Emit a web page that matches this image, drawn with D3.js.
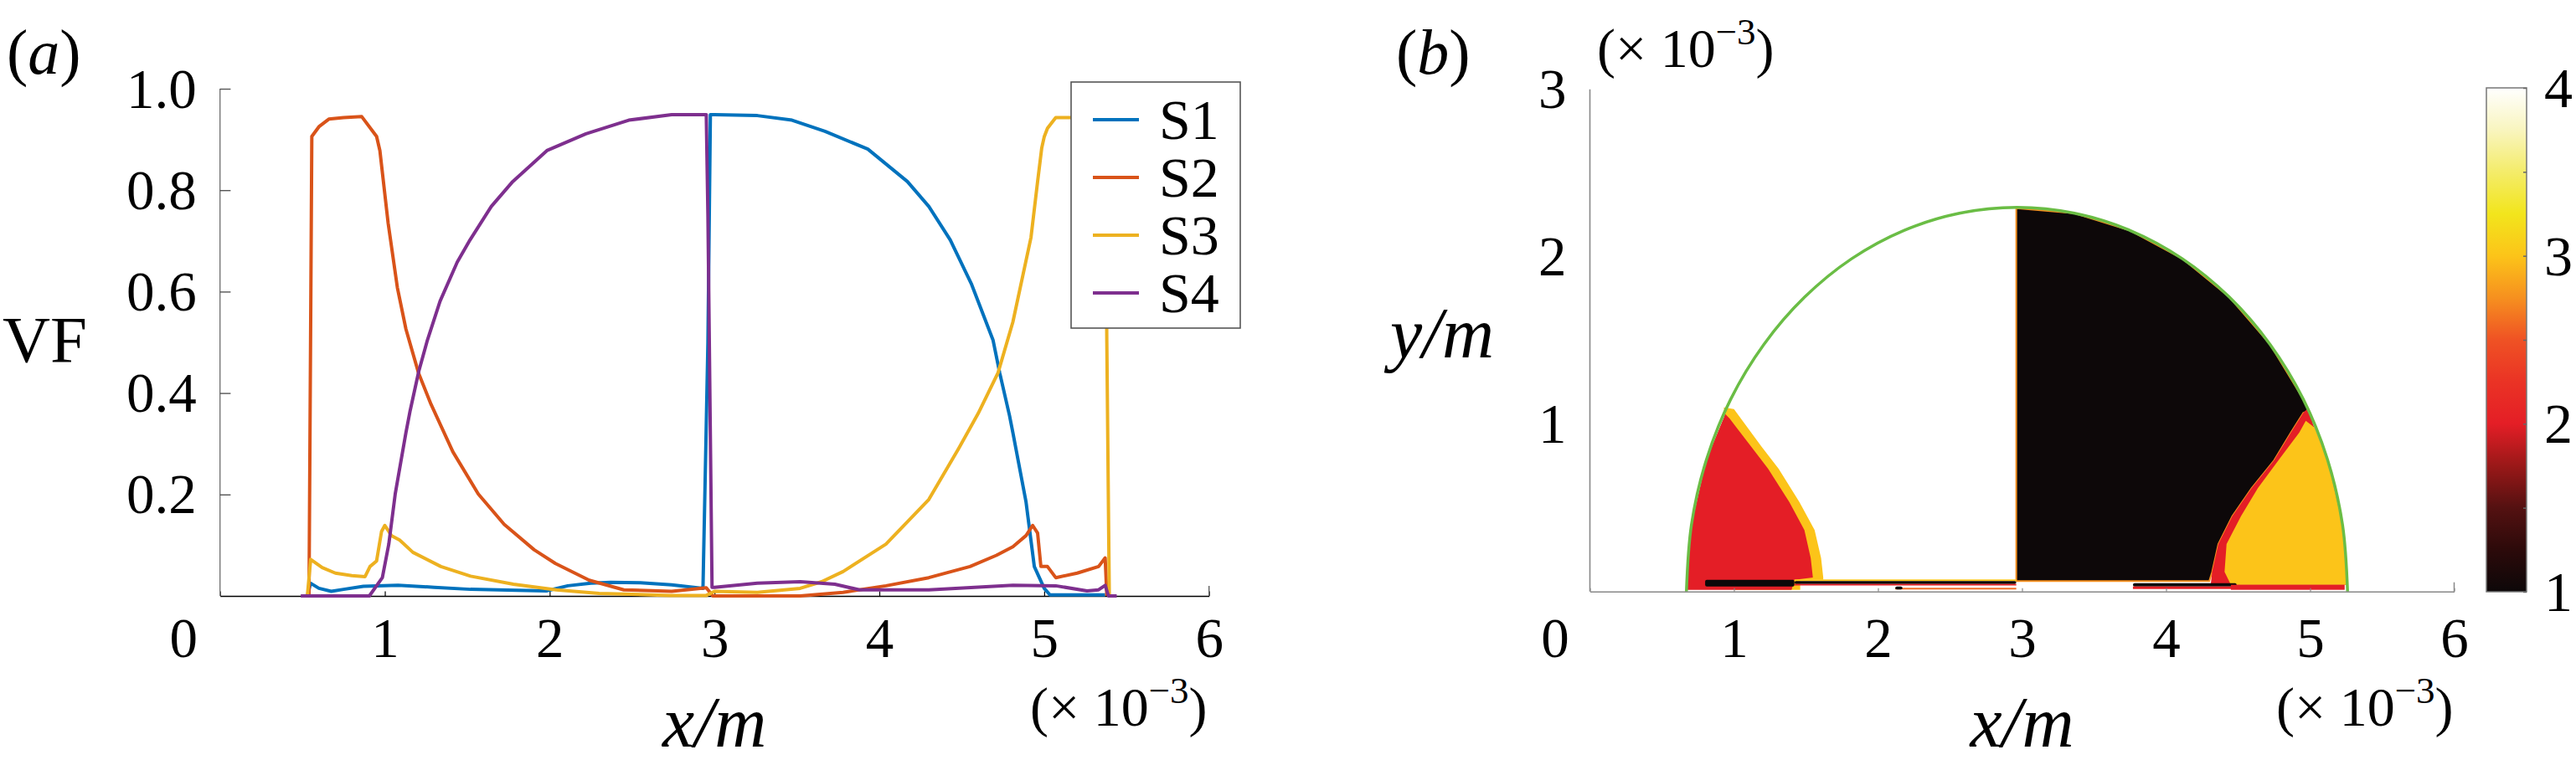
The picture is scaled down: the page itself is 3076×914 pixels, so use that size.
<!DOCTYPE html>
<html>
<head>
<meta charset="utf-8">
<script src="https://cdn.jsdelivr.net/npm/d3@7"></script>
<style>
  body { margin: 0; background: #fff; }
  text { font-family: "Liberation Serif", "Times New Roman", serif; fill: #000; }
</style>
</head>
<body>
<svg id="fig" width="3076" height="914"></svg>
<script>

// ---- panel (a) data: volume fraction of each species along x (x in 1e-3 m)
const seriesNames = ["S1", "S2", "S3", "S4"];
const seriesColors = ["#0072bd", "#d95319", "#edb120", "#7e2f8e"];
const xTicks = [0, 1, 2, 3, 4, 5, 6];
const vfTicks = [0.2, 0.4, 0.6, 0.8, 1.0];

const s1 = [[0.53,0],[0.55,0.025],[0.6,0.015],[0.675,0.009],[0.75,0.013],[0.87,0.019],[1.08,0.021],
  [1.3,0.017],[1.52,0.013],[1.8,0.011],[1.98,0.01],[2.11,0.02],[2.25,0.025],[2.37,0.027],[2.55,0.026],
  [2.74,0.022],[2.93,0.015],[2.96,0.5],[2.975,0.949],[3.0,0.949],[3.26,0.947],[3.47,0.938],[3.67,0.916],
  [3.93,0.881],[4.17,0.817],[4.3,0.768],[4.43,0.702],[4.56,0.614],[4.69,0.504],[4.73,0.44],[4.79,0.355],
  [4.81,0.322],[4.89,0.185],[4.94,0.058],[5.0,0.015],[5.035,0.002],[5.37,0.002]];

const s2 = [[0.54,0],[0.557,0.906],[0.6,0.925],[0.66,0.94],[0.75,0.943],[0.86,0.945],[0.95,0.906],
  [0.97,0.878],[1.02,0.735],[1.076,0.608],[1.128,0.526],[1.206,0.438],[1.28,0.378],[1.413,0.284],
  [1.567,0.201],[1.724,0.141],[1.906,0.091],[2.035,0.064],[2.24,0.031],[2.45,0.012],[2.74,0.009],
  [2.95,0.016],[2.99,0.0],[3.52,0.0],[3.78,0.007],[4.04,0.02],[4.3,0.036],[4.55,0.058],[4.71,0.08],
  [4.81,0.097],[4.89,0.119],[4.93,0.139],[4.96,0.124],[4.98,0.058],[5.02,0.058],[5.07,0.036],
  [5.2,0.045],[5.33,0.058],[5.37,0.075],[5.38,0]];

const s3 = [[0.53,0],[0.55,0.072],[0.62,0.056],[0.7,0.045],[0.8,0.04],[0.88,0.038],[0.91,0.058],
  [0.95,0.069],[0.98,0.127],[1.0,0.139],[1.04,0.119],[1.09,0.11],[1.17,0.086],[1.34,0.058],[1.52,0.039],
  [1.78,0.023],[2.04,0.012],[2.3,0.005],[2.73,0.001],[2.95,0.001],[3.0,0.009],[3.26,0.007],[3.52,0.015],
  [3.65,0.028],[3.78,0.048],[4.04,0.102],[4.3,0.19],[4.48,0.29],[4.6,0.36],[4.72,0.44],[4.81,0.54],
  [4.92,0.707],[4.96,0.817],[4.985,0.883],[5.0,0.905],[5.02,0.922],[5.07,0.943],[5.2,0.943],
  [5.37,0.943],[5.38,0.5],[5.395,0]];

const s4 = [[0.49,0],[0.906,0],[0.985,0.036],[1.024,0.102],[1.063,0.201],[1.128,0.322],[1.154,0.366],
  [1.206,0.443],[1.258,0.504],[1.335,0.581],[1.439,0.658],[1.517,0.702],[1.646,0.768],[1.776,0.817],
  [1.983,0.878],[2.22,0.911],[2.48,0.938],[2.74,0.949],[2.95,0.949],[2.96,0.75],[2.985,0.017],
  [3.0,0.017],[3.26,0.025],[3.52,0.028],[3.73,0.023],[3.88,0.012],[4.3,0.012],[4.81,0.021],[5.07,0.02],
  [5.26,0.01],[5.33,0.012],[5.37,0.021],[5.39,0],[5.44,0]];

const series = [s1, s2, s3, s4];

// ---- panel (b) data: species map in the droplet (x, y in 1e-3 m)
const yTicksB = [1, 2, 3];
const cbarTicks = [1, 1.5, 2, 2.5, 3, 3.5, 4];
const cbarLabels = [1, 2, 3, 4];
const cbarStops = [1, 1.25, 1.5, 1.75, 2, 2.25, 2.5, 2.75, 3, 3.25, 3.5, 3.75, 4];
const cbarColors = ["#0d0809", "#2c0a0a", "#541111", "#9a1818", "#e41e26", "#ea3325", "#ef5224",
  "#f6901f", "#fcc419", "#f2e51c", "#f4ec6a", "#f9f5bf", "#ffffff"];

const outline = [[0.670,0],[0.705,0.399],[0.808,0.785],[0.977,1.148],[1.207,1.475],[1.490,1.758],
  [1.817,1.988],[2.180,2.157],[2.566,2.260],[2.965,2.295],[3.364,2.260],[3.750,2.157],[4.113,1.988],
  [4.440,1.758],[4.723,1.475],[4.953,1.148],[5.122,0.785],[5.225,0.399],[5.260,0]];

const blackRegion = [[2.96,0.062],[2.96,2.29],[3.364,2.26],[3.75,2.157],[4.113,1.988],[4.44,1.758],
  [4.723,1.475],[4.953,1.148],[4.99,1.08],[4.953,1.067],[4.867,0.95],[4.75,0.783],[4.594,0.617],
  [4.46,0.45],[4.363,0.283],[4.32,0.117],[4.30,0.062]];

const rightRed = [[4.99,1.1],[4.953,1.067],[4.867,0.95],[4.75,0.783],[4.594,0.617],[4.46,0.45],
  [4.363,0.283],[4.32,0.117],[4.31,0.04],[5.26,0.04],[5.256,0.117],[5.225,0.399],[5.122,0.785],[5.02,1.0]];

const rightYellow = [[4.97,1.02],[4.925,0.95],[4.78,0.783],[4.637,0.617],[4.52,0.45],[4.42,0.283],
  [4.406,0.117],[4.45,0.04],[5.26,0.04],[5.256,0.117],[5.225,0.399],[5.122,0.785],[5.03,0.98]];

const leftYellow = [[0.93,1.1],[1.0,1.09],[1.19,0.867],[1.31,0.733],[1.455,0.533],[1.56,0.367],
  [1.605,0.2],[1.62,0.083],[1.62,0.07],[1.46,0.07],[1.46,0.01],[1.0,0.01]];

const leftRed = [[0.67,0.01],[0.705,0.399],[0.808,0.785],[0.94,1.06],[0.97,1.033],[1.118,0.867],
  [1.237,0.733],[1.385,0.533],[1.489,0.367],[1.533,0.2],[1.548,0.083],[1.42,0.07],[1.40,0.01]];

const regions = [leftYellow, leftRed, blackRegion, rightRed, rightYellow];
const regionLevels = [3, 2, 1, 2, 3];

// thin strips along the wall: [x0, x1, y0, y1, level]
const strips = [
  [0.80, 1.42, 0.03, 0.07, 1],
  [1.42, 2.96, 0.062, 0.072, 3],
  [1.42, 2.96, 0.045, 0.062, 1],
  [1.42, 2.96, 0.036, 0.045, 2],
  [2.12, 2.96, 0.012, 0.022, 2.6],
  [2.12, 2.17, 0.012, 0.03, 1],
  [3.77, 4.49, 0.03, 0.05, 1],
  [3.77, 4.49, 0.015, 0.03, 2],
  [4.45, 5.24, 0.01, 0.04, 2]
];

const svg = d3.select("#fig");

// ---------------- panel (a)
const xA = d3.scaleLinear().domain([0, 6]).range([262.7, 1443.7]);
const yA = d3.scaleLinear().domain([0, 1]).range([712, 106]);

const axA = svg.append("g")
  .attr("transform", `translate(0,${yA(0)})`)
  .call(d3.axisBottom(xA).tickValues(xTicks).tickSize(-5.5).tickSizeOuter(0).tickFormat(d3.format("d")))
  .attr("font-size", 67);
axA.select(".domain").attr("stroke", "#000").attr("stroke-width", 1.6);
axA.selectAll(".tick line").attr("stroke", "#000").attr("stroke-width", 1.2);
axA.selectAll(".tick text").attr("y", 73).attr("dy", 0)
  .attr("x", d => d === 0 ? -44 : 0);

svg.append("line")
  .attr("x1", xA(6)).attr("x2", xA(6))
  .attr("y1", yA(0)).attr("y2", yA(0) - 12)
  .attr("stroke", "#666").attr("stroke-width", 1.5);

const ayA = svg.append("g")
  .attr("transform", `translate(${xA(0)},0)`)
  .call(d3.axisLeft(yA).tickValues(vfTicks).tickSize(-12.7).tickSizeOuter(0).tickPadding(28).tickFormat(d3.format(".1f")))
  .attr("font-size", 67);
ayA.select(".domain").attr("stroke", "#777").attr("stroke-width", 1.4)
  .attr("d", `M0,${yA(0)}V${yA(1)}`);
ayA.selectAll(".tick line").attr("stroke", "#555").attr("stroke-width", 1.4);
ayA.selectAll(".tick text").attr("dy", "0.33em");

const lineA = d3.line().x(d => xA(d[0])).y(d => yA(d[1]));

svg.append("g").selectAll("path")
  .data(series)
  .enter().append("path")
  .attr("d", lineA)
  .attr("fill", "none")
  .attr("stroke", (d, i) => seriesColors[i])
  .attr("stroke-width", 4)
  .attr("stroke-linejoin", "round");

// legend
const legend = svg.append("g");
legend.append("rect")
  .attr("x", 1279).attr("y", 98).attr("width", 202).attr("height", 294)
  .attr("fill", "#fff").attr("stroke", "#555").attr("stroke-width", 1.6);
const entries = legend.selectAll(".entry")
  .data(seriesNames)
  .enter().append("g")
  .attr("class", "entry")
  .attr("transform", (d, i) => `translate(0,${143 + i * 69})`);
entries.append("line")
  .attr("x1", 1305).attr("x2", 1360)
  .attr("stroke", (d, i) => seriesColors[i]).attr("stroke-width", 4);
entries.append("text")
  .attr("x", 1384).attr("y", 23)
  .attr("font-size", 68)
  .text(d => d);

svg.append("text").attr("x", 8).attr("y", 88).attr("font-size", 76)
  .html('(<tspan font-style="italic">a</tspan>)');
svg.append("text").attr("x", 3).attr("y", 432).attr("font-size", 79).text("VF");
svg.append("text").attr("x", xA(3)).attr("y", 892).attr("font-size", 86)
  .attr("text-anchor", "middle").attr("font-style", "italic").text("x/m");
svg.append("text").attr("x", 1230).attr("y", 867).attr("font-size", 66)
  .html('(× 10<tspan dy="-27" font-size="45">−3</tspan><tspan dy="27">)</tspan>');

// ---------------- panel (b)
const xB = d3.scaleLinear().domain([0, 6]).range([1898.5, 2930.5]);
const yB = d3.scaleLinear().domain([0, 3]).range([706.7, 106.7]);
const colorScale = d3.scaleLinear().domain(cbarStops).range(cbarColors);
const lineB = d3.line().x(d => xB(d[0])).y(d => yB(d[1]));

svg.append("g").selectAll("path")
  .data(regions)
  .enter().append("path")
  .attr("d", d => lineB(d) + "Z")
  .attr("fill", (d, i) => colorScale(regionLevels[i]))
  .attr("stroke", (d, i) => regionLevels[i] === 1 ? colorScale(2.75) : "none")
  .attr("stroke-width", 2);

svg.append("g").selectAll("rect")
  .data(strips)
  .enter().append("rect")
  .attr("x", d => xB(d[0]))
  .attr("width", d => xB(d[1]) - xB(d[0]))
  .attr("y", d => yB(d[3]))
  .attr("height", d => yB(d[2]) - yB(d[3]))
  .attr("rx", d => d[4] === 1 ? 2 : 0)
  .attr("fill", d => colorScale(d[4]));

svg.append("path")
  .attr("d", lineB.curve(d3.curveCatmullRom)(outline))
  .attr("fill", "none")
  .attr("stroke", "#6abd45")
  .attr("stroke-width", 3.5)
  .attr("stroke-linejoin", "round");
lineB.curve(d3.curveLinear);

const axB = svg.append("g")
  .attr("transform", `translate(0,${yB(0)})`)
  .call(d3.axisBottom(xB).tickValues(xTicks).tickSize(-4).tickSizeOuter(0).tickFormat(d3.format("d")))
  .attr("font-size", 67);
axB.select(".domain").attr("stroke", "#888").attr("stroke-width", 1.6);
axB.selectAll(".tick line").attr("stroke", "#888").attr("stroke-width", 1.2);
axB.selectAll(".tick text").attr("y", 78).attr("dy", 0)
  .attr("x", d => d === 0 ? -42 : 0);

svg.append("line")
  .attr("x1", xB(6)).attr("x2", xB(6))
  .attr("y1", yB(0)).attr("y2", yB(0) - 11)
  .attr("stroke", "#888").attr("stroke-width", 1.5);

const ayB = svg.append("g")
  .attr("transform", `translate(${xB(0)},0)`)
  .call(d3.axisLeft(yB).tickValues(yTicksB).tickSize(0).tickPadding(28).tickFormat(d3.format("d")))
  .attr("font-size", 67);
ayB.select(".domain").attr("stroke", "#888").attr("stroke-width", 1.6)
  .attr("d", `M0,${yB(0)}V${yB(3)}`);
ayB.selectAll(".tick text").attr("dy", "0.33em");

svg.append("text").attr("x", 1667).attr("y", 88).attr("font-size", 76)
  .html('(<tspan font-style="italic">b</tspan>)');
svg.append("text").attr("x", 1660).attr("y", 427).attr("font-size", 86)
  .attr("font-style", "italic").text("y/m");
svg.append("text").attr("x", xB(3)).attr("y", 892).attr("font-size", 86)
  .attr("text-anchor", "middle").attr("font-style", "italic").text("x/m");
svg.append("text").attr("x", 1907).attr("y", 80).attr("font-size", 66)
  .html('(× 10<tspan dy="-27" font-size="45">−3</tspan><tspan dy="27">)</tspan>');
svg.append("text").attr("x", 2718).attr("y", 867).attr("font-size", 66)
  .html('(× 10<tspan dy="-27" font-size="45">−3</tspan><tspan dy="27">)</tspan>');

// colorbar
const cScale = d3.scaleLinear().domain([1, 4]).range([707, 105]);
const grad = svg.append("defs").append("linearGradient")
  .attr("id", "cbar").attr("x1", 0).attr("y1", 1).attr("x2", 0).attr("y2", 0);
grad.selectAll("stop")
  .data(cbarStops)
  .enter().append("stop")
  .attr("offset", d => (d - 1) / 3)
  .attr("stop-color", d => colorScale(d));

svg.append("rect")
  .attr("x", 2969).attr("y", cScale(4))
  .attr("width", 48).attr("height", cScale(1) - cScale(4))
  .attr("fill", "url(#cbar)")
  .attr("stroke", "#777").attr("stroke-width", 1.5);

const cax = svg.append("g")
  .attr("transform", "translate(3017,0)")
  .call(d3.axisRight(cScale).tickValues(cbarTicks).tickSize(-4).tickPadding(21)
    .tickFormat(d => cbarLabels.includes(d) ? d : ""))
  .attr("font-size", 68);
cax.select(".domain").remove();
cax.selectAll(".tick line").attr("stroke", "#666").attr("stroke-width", 1.5);
cax.selectAll(".tick text").attr("dy", "0.33em");

</script>
</body>
</html>
